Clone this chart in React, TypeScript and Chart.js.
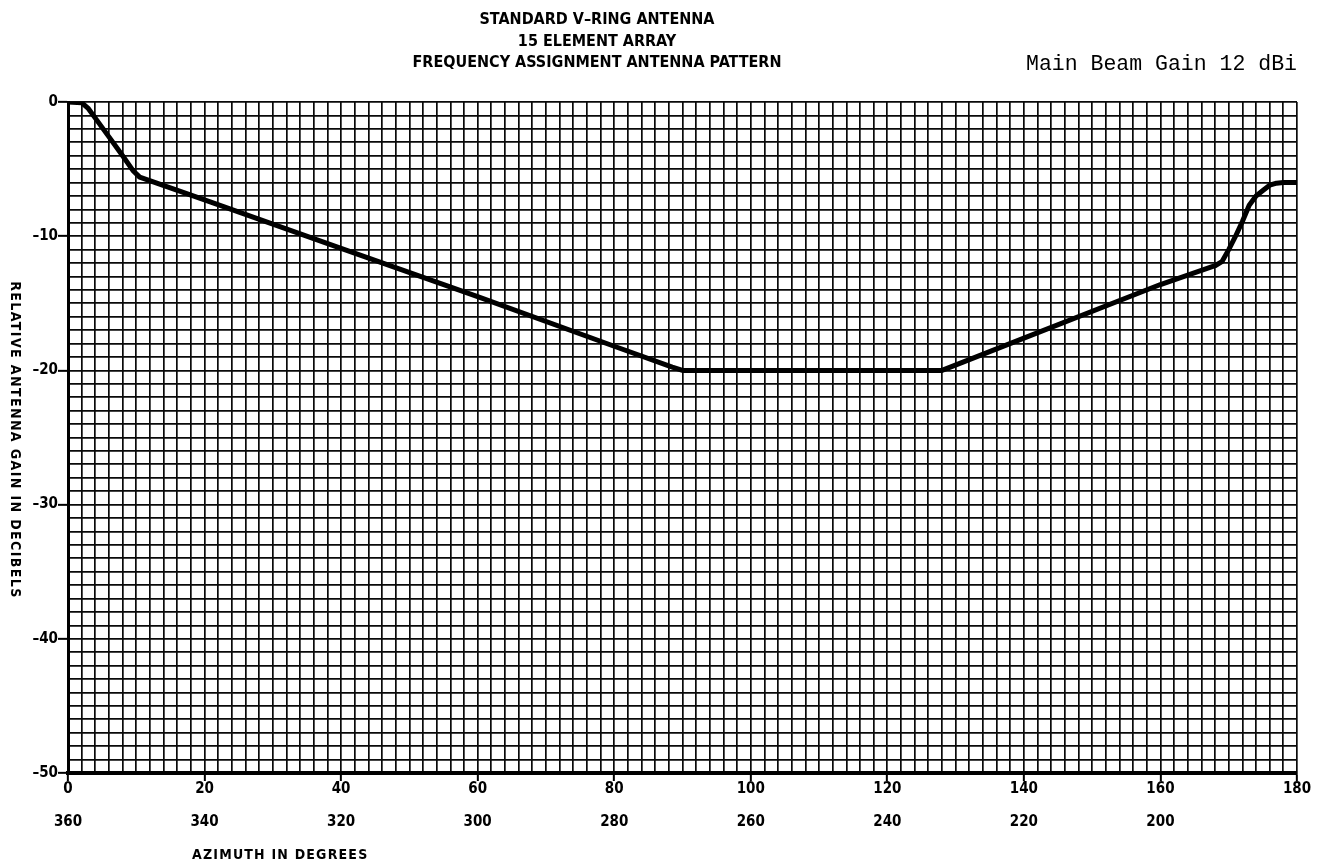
import React, { useEffect, useRef } from "react";
import { Chart, registerables } from "chart.js";

Chart.register(...registerables);

const azimuth = [0, 2, 3, 4, 6, 8, 9.5, 10.5, 20, 40, 60, 80, 88.5, 90, 100, 120, 128, 129.5, 140, 160, 168, 169, 170, 171, 172, 173, 174, 175, 176, 177, 178, 180];
const gainDb = [0, -0.05, -0.5, -1.2, -2.6, -4.0, -5.1, -5.6, -7.3, -10.9, -14.5, -18.2, -19.75, -20, -20, -20, -20, -19.7, -17.6, -13.6, -12.2, -11.9, -11.0, -10.0, -8.9, -7.7, -7.0, -6.6, -6.2, -6.05, -6.0, -6.0];

const titleLines = ["STANDARD V\u2013RING ANTENNA", "15 ELEMENT ARRAY", "FREQUENCY ASSIGNMENT ANTENNA PATTERN"];
const gainNote = "Main Beam Gain 12 dBi";
const xTitle = "AZIMUTH IN DEGREES";
const yTitle = "RELATIVE ANTENNA GAIN IN DECIBELS";

const COND = "'DejaVu Sans Condensed', 'Liberation Sans Narrow', 'Roboto Condensed', 'Liberation Sans', sans-serif";

const textPlugin = {
  id: "textPlugin",
  afterDraw(chart: any) {
    const ctx = chart.ctx;
    ctx.save();
    ctx.fillStyle = "#000";
    ctx.textAlign = "center";
    ctx.textBaseline = "middle";
    ctx.font = `bold 16px ${COND}`;
    const ys = [20, 42, 63];
    titleLines.forEach((t, i) => ctx.fillText(t, 597, ys[i]));
    ctx.textAlign = "left";
    ctx.font = "21.5px 'Liberation Mono', 'DejaVu Sans Mono', monospace";
    ctx.fillText(gainNote, 1026, 64);
    ctx.font = `bold 14px ${COND}`;
    (ctx as any).letterSpacing = "1.2px";
    ctx.fillText(xTitle, 192, 855);
    ctx.translate(15, 440);
    ctx.rotate(Math.PI / 2);
    ctx.textAlign = "center";
    ctx.font = `bold 14px ${COND}`;
    (ctx as any).letterSpacing = "1.4px";
    ctx.fillText(yTitle, 0, 0);
    ctx.restore();
  },
};

export default function App() {
  const ref = useRef<HTMLCanvasElement | null>(null);
  useEffect(() => {
    if (!ref.current) return;
    const chart = new Chart(ref.current, {
      type: "line",
      data: {
        datasets: [
          {
            data: azimuth.map((x, i) => ({ x, y: gainDb[i] })),
            borderColor: "#000",
            borderWidth: 5,
            pointRadius: 0,
            tension: 0,
            borderJoinStyle: "round",
            borderCapStyle: "round",
          },
        ],
      },
      options: {
        animation: false,
        responsive: false,
        layout: { padding: { left: 0, right: 26, top: 102, bottom: 0 } },
        plugins: { legend: { display: false }, tooltip: { enabled: false }, title: { display: false } },
        scales: {
          x: {
            type: "linear",
            min: 0,
            max: 180,
            afterFit: (s: any) => {
              s.height = 94;
            },
            border: { display: true, color: "#000", width: 4 },
            grid: {
              color: "#0a0a0a",
              lineWidth: 1.7,
              drawTicks: true,
              tickLength: 8,
              tickWidth: 2,
              tickColor: (c: any) => (c.tick && c.tick.value % 20 === 0 ? "#000" : "rgba(0,0,0,0)"),
            },
            ticks: {
              stepSize: 2,
              autoSkip: false,
              maxRotation: 0,
              padding: 0,
              color: "#000",
              font: { family: COND, size: 15, weight: "bold", lineHeight: 1.1 },
              callback: (v: any) => {
                const n = Number(v);
                if (n % 20 !== 0) return "";
                if (n === 180) return ["180"];
                return [String(n), "", String(360 - n)];
              },
            },
          },
          y: {
            type: "linear",
            min: -50,
            max: 0,
            afterFit: (s: any) => {
              s.width = 68;
            },
            border: { display: true, color: "#000", width: 3 },
            grid: {
              color: "#0a0a0a",
              lineWidth: 1.7,
              drawTicks: true,
              tickLength: 10,
              tickWidth: 2,
              tickColor: (c: any) => (c.tick && c.tick.value % 10 === 0 ? "#000" : "rgba(0,0,0,0)"),
            },
            ticks: {
              stepSize: 1,
              autoSkip: false,
              padding: 0,
              color: "#000",
              font: { family: COND, size: 15, weight: "bold" },
              callback: (v: any) => {
                const n = Number(v);
                if (n % 10 !== 0) return "";
                return n === 0 ? "0" : "\u2013" + String(Math.abs(n));
              },
            },
          },
        },
      },
      plugins: [textPlugin],
    } as any);
    return () => chart.destroy();
  }, []);
  return (
    <div style={{ position: "fixed", left: 0, top: 0, width: 1323, height: 867, background: "#fff" }}>
      <canvas ref={ref} width={1323} height={867} style={{ width: 1323, height: 867, display: "block" }} />
    </div>
  );
}
